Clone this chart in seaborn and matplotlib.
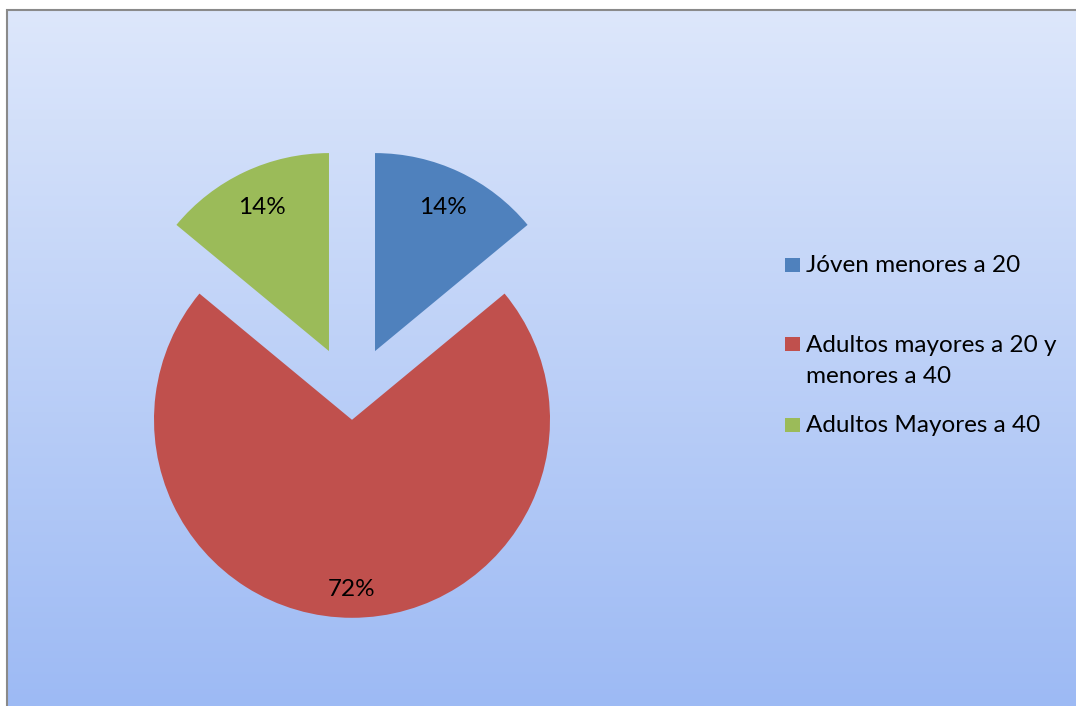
import numpy as np
import matplotlib
matplotlib.use("Agg")
import matplotlib.pyplot as plt
from matplotlib.patches import Rectangle
import seaborn as sns

# Age groups and their shares (%)
categories = ["Jóven menores a 20",
              "Adultos mayores a 20 y\nmenores a 40",
              "Adultos Mayores a 40"]
shares = [14, 72, 14]
explode = [0.273, 0.10, 0.273]
label_dist = [0.80, 0.855, 0.80]
palette_hex = ["#4F81BD", "#C0504D", "#9BBB59"]

sns.set_theme(style="white")
plt.rcParams["font.family"] = ["Lato", "DejaVu Sans"]
colors = sns.color_palette(palette_hex)

W, H = 1076, 706
fig = plt.figure(figsize=(W / 100, H / 100), dpi=100)
fig.patch.set_facecolor("white")

# Chart area with vertical blue gradient
bg = fig.add_axes([7 / W, 0, 1 - 7 / W, (H - 10) / H])
top = np.array([221, 231, 251]) / 255
bot = np.array([157, 186, 244]) / 255
t = np.linspace(0, 1, 256)[:, None]
grad = top + (bot - top) * t
bg.imshow(grad[:, None, :], aspect="auto", extent=[0, 1, 0, 1], zorder=0)
bg.axis("off")

# Chart frame
frame = Rectangle((6.5 / W, -0.2), 1.2, (H - 9.5) / H + 0.2,
                  transform=fig.transFigure, fill=False,
                  edgecolor="#8a8a8a", linewidth=1.5, zorder=5)
fig.patches.append(frame)

# Pie: 1 data unit = 198 px, centre at (352, 306) px from the bottom-left
R = 198.0
ax = fig.add_axes([0, 0, 704 / W, 612 / H])
ax.patch.set_alpha(0)
base_dist = 0.83
wedges, _, autotexts = ax.pie(
    shares, colors=colors, explode=explode, startangle=90,
    counterclock=False, radius=1,
    autopct=lambda p: f"{p:.0f}%", pctdistance=base_dist,
    wedgeprops=dict(linewidth=0),
    textprops=dict(fontsize=17.5, color="black"),
)
# per-slice distance of the percentage labels from each wedge's apex
for w, txt, d in zip(wedges, autotexts, label_dist):
    cx, cy = w.center
    x, y = txt.get_position()
    k = d / base_dist
    txt.set_position((cx + (x - cx) * k, cy + (y - cy) * k))

ax.set_xlim(-352 / R, 352 / R)
ax.set_ylim(-306 / R, 306 / R)
ax.set_aspect("auto")
ax.axis("off")

# Legend: colour squares with labels to their right
sq_tops = [258, 337, 418]
text_tops = [255, 335, 415]
for name, col, sq, tt in zip(categories, colors, sq_tops, text_tops):
    fig.patches.append(Rectangle((785 / W, (H - sq - 14) / H), 15 / W, 14 / H,
                                 transform=fig.transFigure, facecolor=col,
                                 edgecolor="none", zorder=6))
    fig.text(806 / W, (H - tt) / H, name, ha="left", va="top",
             fontsize=17.5, color="black", linespacing=1.6, zorder=6)

fig.savefig("out.png", dpi=100)
